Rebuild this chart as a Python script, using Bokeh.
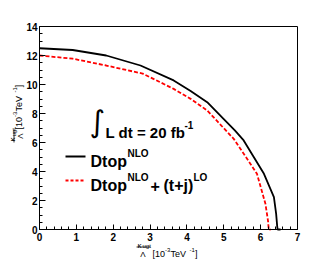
import math
from bokeh.plotting import figure
from bokeh.models import FixedTicker, Label, Arrow, LinearAxis, Range1d
from bokeh.embed import file_html
from bokeh.resources import INLINE

# ---- data ----
nlo_x = [0, 0.9, 1.81, 2.74, 3.64, 4.1, 4.55, 5.0, 5.3, 5.54, 5.8, 6.09, 6.36, 6.42, 6.45, 6.46, 6.54]
nlo_y = [12.5, 12.38, 12.0, 11.31, 10.28, 9.55, 8.78, 7.61, 6.83, 6.14, 5.05, 3.84, 2.23, 1.1, 0.2, 0.0, 0.0]

tj_x = [0, 0.9, 1.81, 2.8, 3.64, 4.1, 4.55, 5.27, 5.6, 5.9, 6.13, 6.2, 6.22, 6.27]
tj_y = [12.0, 11.78, 11.31, 10.75, 9.70, 9.01, 8.21, 6.25, 5.0, 3.84, 1.77, 0.6, 0.0, 0.0]

x_ticks = [0, 1, 2, 3, 4, 5, 6, 7]
y_ticks = [0, 2, 4, 6, 8, 10, 12, 14]

# layout (page pixels): plot box at left 39, top 26, 258 x 203
FL, FT, FW, FH = 39, 26, 258, 203
W, H = FL + FW + 26, FT + FH + 34
x0, x1 = x_ticks[0], x_ticks[-1]
y0, y1 = y_ticks[0], y_ticks[-1]
ux = FW / (x1 - x0)
uy = FH / (y1 - y0)
xr = Range1d(x0 - FL / ux, x1 + (W - FL - FW) / ux)
yr = Range1d(y0 - (H - FT - FH) / uy, y1 + FT / uy)

p = figure(width=W, height=H, x_range=xr, y_range=yr,
           output_backend="svg", toolbar_location=None,
           min_border=0)
p.grid.visible = False
p.outline_line_color = None
p.background_fill_color = "white"
p.border_fill_color = "white"

p.xaxis.ticker = FixedTicker(ticks=x_ticks, minor_ticks=[i * 0.2 for i in range(36)])
p.yaxis.ticker = FixedTicker(ticks=y_ticks, minor_ticks=[i * 0.5 for i in range(29)])
p.xaxis.fixed_location = y0
p.yaxis.fixed_location = x0
p.xaxis.bounds = (x0, x1)
p.yaxis.bounds = (y0, y1)
for ax in (p.xaxis, p.yaxis):
    ax.major_tick_out = 0
    ax.minor_tick_out = 0
    ax.minor_tick_in = 3
    ax.axis_line_color = "black"
    ax.major_tick_line_color = "black"
    ax.minor_tick_line_color = "black"
    ax.major_label_text_font = "Liberation Sans"
    ax.major_label_text_font_style = "bold"
    ax.major_label_text_font_size = "10px"
    ax.major_label_text_color = "black"
p.xaxis.major_tick_in = 5
p.yaxis.major_tick_in = 6
p.xaxis.major_label_standoff = 3
p.yaxis.major_label_standoff = 2

# top and right edges of the box
top = LinearAxis(fixed_location=y1, bounds=(x0, x1), ticker=FixedTicker(ticks=[]),
                 major_tick_in=0, major_tick_out=0, minor_tick_in=0, minor_tick_out=0,
                 major_label_text_font_size="0px", axis_line_color="black")
right = LinearAxis(fixed_location=x1, bounds=(y0, y1), ticker=FixedTicker(ticks=[]),
                   major_tick_in=0, major_tick_out=0, minor_tick_in=0, minor_tick_out=0,
                   major_label_text_font_size="0px", axis_line_color="black")
p.add_layout(top, "above")
p.add_layout(right, "right")

p.line(nlo_x, nlo_y, line_color="black", line_width=1.8)
p.line(tj_x, tj_y, line_color="red", line_width=1.8, line_dash="4 2")


def put(text, px, py, size, bold=False, angle=0.0, align="left",
        font="Liberation Sans", baseline="alphabetic"):
    p.add_layout(Label(x=px, y=py, x_units="canvas", y_units="canvas",
                       text=text, text_font=font, text_font_size=f"{size}px",
                       text_font_style="bold" if bold else "normal",
                       text_color="black", angle=angle, text_align=align,
                       text_baseline=baseline))


def seg(px0, py0, px1, py1, color="black", width=1.0, dash="solid"):
    p.add_layout(Arrow(end=None, x_start=px0, y_start=py0,
                       x_end=px1, y_end=py1,
                       start_units="canvas", end_units="canvas",
                       line_color=color, line_width=width, line_dash=dash))


# x axis title: kappa_ugt / Lambda [10^-3 TeV^-1]
put("κ", 137, 244.5, 8)
put("ugt", 142, 245.5, 6)
seg(136, 246.5, 150, 246.5, width=0.8)
put("Λ", 142.5, 253.5, 8, align="center")
put("[10", 152, 253.5, 9)
put("-3", 164.5, 249.5, 6)
put(" TeV", 170, 253.5, 9)
put("-1", 189, 249.5, 6)
put("]", 194.5, 253.5, 9)

# y axis title (rotated)
r = math.pi / 2
put("κ", 12, 141, 8, angle=r)
put("ugt", 13, 136, 6, angle=r)
seg(13.5, 142, 13.5, 129, width=0.8)
put("Λ", 19.5, 135.5, 8, angle=r, align="center")
put("[10", 18, 129, 9, angle=r)
put("-3", 14, 116.5, 6, angle=r)
put(" TeV", 18, 111, 9, angle=r)
put("-1", 14, 92, 6, angle=r)
put("]", 18, 86.7, 9, angle=r)

# luminosity text
put("∫", 89, 121, 30, font="DejaVu Sans")
put("L dt = 20 fb", 105, 132, 15, bold=True)
put("-1", 184, 124, 10, bold=True)

# legend
seg(65, 156, 85, 156, color="black", width=1.8)
put("Dtop", 90, 161, 16, bold=True)
put("NLO", 127, 153, 10, bold=True)
seg(65, 180, 85, 180, color="red", width=1.8, dash="3 2")
put("Dtop", 90, 185, 16, bold=True)
put("NLO", 127, 177, 10, bold=True)
put("+", 150, 185, 16, bold=True)
put("(t+j)", 163, 185, 16, bold=True)
put("LO", 193, 177, 10, bold=True)

open("out.html", "w").write(file_html(p, INLINE))
